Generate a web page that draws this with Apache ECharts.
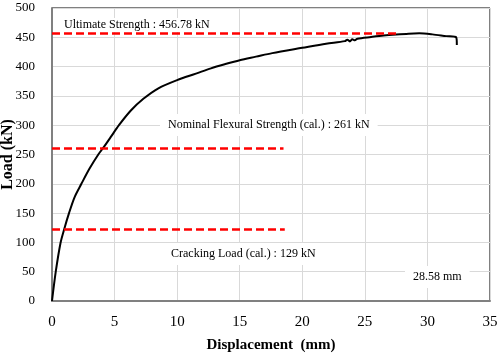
<!DOCTYPE html>
<html>
<head>
<meta charset="utf-8">
<script src="https://cdn.jsdelivr.net/npm/echarts@6/dist/echarts.min.js"></script>
<style>
  html, body { margin: 0; padding: 0; background: #fff; }
  #chart { width: 500px; height: 354px; }
</style>
</head>
<body>
<div id="chart"></div>
<script>
// load-displacement curve
const displacement = [0, 0.3, 0.68, 0.98, 1.36, 1.8, 2.35, 3.0, 3.7, 4.15, 4.7, 5.35, 6.3, 7.3, 8.5, 10, 11.5, 12.7, 13.8, 15, 16.3, 17.6, 20, 21.9, 23.4, 23.6, 23.8, 24.0, 24.2, 24.4, 25.5, 26.5, 27.5, 28.5, 29.35, 30.4, 31.5, 32.3, 32.35]
const load = [0, 50, 99, 123, 150, 177, 200, 226, 250, 263, 280, 300, 325, 345, 363, 377, 388, 397, 404, 411, 417, 423, 432, 439, 443.5, 446, 443, 446.5, 445, 447.5, 450.5, 453, 454.8, 456.2, 456.7, 455, 452, 450, 437]

// red reference lines: [level, end displacement]
const refLevels = [456.78, 261, 122]
const refEnds = [27.65, 18.5, 18.6]

const xTicks = { min: 0, max: 35, step: 5 }
const yTicks = { min: 0, max: 500, step: 50 }

const notes = [
  'Ultimate Strength : 456.78 kN',
  'Nominal Flexural Strength (cal.) : 261 kN',
  'Cracking Load (cal.) : 129 kN',
  '28.58 mm',
]

const serif = '"Liberation Serif", "Times New Roman", serif'
const chart = echarts.init(document.getElementById('chart'))

const noteBox = (text, left, top, pad) => ({
  type: 'text',
  left: left,
  top: top,
  z: 2,
  style: {
    text: text,
    fill: '#000',
    font: '12px ' + serif,
    backgroundColor: '#fff',
    padding: pad,
  },
})

chart.setOption({
  backgroundColor: '#fff',
  animation: false,
  grid: {
    left: 52,
    right: 10,
    top: 8,
    bottom: 53,
    containLabel: false,
    outerBoundsMode: 'none',
    show: true,
    borderColor: '#000',
    borderWidth: 1,
    backgroundColor: 'transparent',
  },
  xAxis: {
    type: 'value',
    min: xTicks.min,
    max: xTicks.max,
    interval: xTicks.step,
    name: 'Displacement  (mm)',
    nameLocation: 'middle',
    nameGap: 37,
    nameMoveOverlap: false,
    nameTextStyle: { fontFamily: serif, fontSize: 15, fontWeight: 'bold', color: '#000' },
    axisLine: { show: true, lineStyle: { color: '#808080', width: 2 } },
    axisTick: { show: false },
    axisLabel: { fontFamily: serif, fontSize: 15, color: '#000', margin: 14 },
    splitLine: { show: true, lineStyle: { color: '#d9d9d9', width: 1 } },
  },
  yAxis: {
    type: 'value',
    min: yTicks.min,
    max: yTicks.max,
    interval: yTicks.step,
    name: 'Load (kN)',
    nameLocation: 'middle',
    nameGap: 36,
    nameMoveOverlap: false,
    nameTextStyle: { fontFamily: serif, fontSize: 16, fontWeight: 'bold', color: '#000' },
    axisLine: { show: true, lineStyle: { color: '#808080', width: 2 } },
    axisTick: { show: false },
    axisLabel: { fontFamily: serif, fontSize: 13, color: '#000', margin: 17 },
    splitLine: { show: true, lineStyle: { color: '#d9d9d9', width: 1 } },
  },
  series: [
    {
      type: 'line',
      data: displacement.map((d, i) => [d, load[i]]),
      showSymbol: false,
      smooth: 0.3,
      lineStyle: { color: '#000', width: 2 },
      z: 3,
    },
    {
      type: 'line',
      data: [],
      z: 4,
      markLine: {
        silent: true,
        symbol: 'none',
        label: { show: false },
        lineStyle: { color: '#ff0000', width: 2.5, type: [8, 4] },
        data: refLevels.map((v, i) => [
          { coord: [0, v] },
          { coord: [refEnds[i], v] },
        ]),
      },
    },
  ],
  graphic: [
    noteBox(notes[0], 56, 18, [1, 8]),
    noteBox(notes[1], 160, 114, [5, 8]),
    noteBox(notes[2], 163, 243, [5, 8]),
    noteBox(notes[3], 405, 266, [5, 8]),
  ],
})
</script>
</body>
</html>
